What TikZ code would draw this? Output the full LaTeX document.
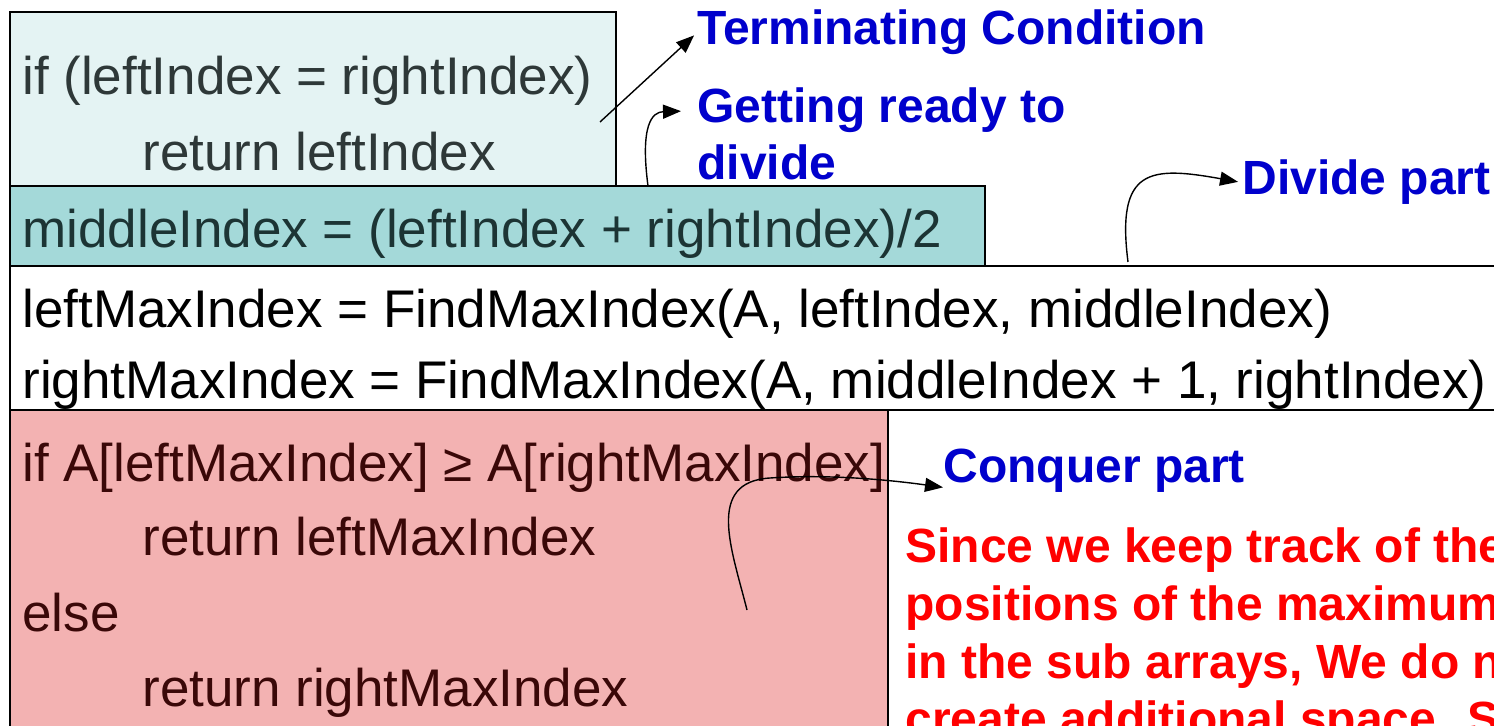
\documentclass[tikz,border=0pt]{standalone}
\usepackage{fontspec}
\setmainfont{Liberation Sans}
\usetikzlibrary{arrows.meta,positioning,calc}
\definecolor{paleteal}{HTML}{E4F3F3}
\definecolor{midteal}{HTML}{A4D9D9}
\definecolor{palerose}{HTML}{F3B2B2}
\definecolor{greyink}{HTML}{2E3838}
\definecolor{tealink}{HTML}{1C3434}
\definecolor{roseink}{HTML}{3A0808}
\definecolor{noteblue}{HTML}{0000CC}
\definecolor{notered}{HTML}{FF0000}
\newcommand{\codesize}{\fontsize{26.5}{32}\selectfont}
\newcommand{\notesize}{\fontsize{24}{28.5}\selectfont\bfseries}

\begin{document}
\begin{tikzpicture}[x=0.5pt,y=-0.5pt,>={Triangle[length=9pt,width=7pt]},
  box/.style={draw=black,line width=1pt},
  code/.style={anchor=base west,inner sep=0pt,font=\codesize},
  note/.style={anchor=base west,inner sep=0pt,font=\notesize,text=noteblue},
  warn/.style={note,text=notered},
  link/.style={->,line width=0.7pt}]
  \useasboundingbox (0,0) rectangle (1494,726);
  \clip (0,0) rectangle (1494,726);
  % code blocks
  \draw[box,fill=paleteal] (10,12) rectangle (616,186);
  \draw[box,fill=midteal] (10,186) rectangle (985,266);
  \draw[box,fill=white] (10,266) rectangle (1510,410);
  \draw[box,fill=palerose] (10,410) rectangle (888,740);
  % code text
  \node[code,text=greyink] (base1) at (22,95) {if (leftIndex = rightIndex)};
  \node[code,text=greyink] (base2) at (142,171) {return leftIndex};
  \node[code,text=tealink] (mid) at (22,248) {middleIndex = (leftIndex + rightIndex)/2};
  \node[code] (rec1) at (22,328) {leftMaxIndex = FindMaxIndex(A, leftIndex, middleIndex)};
  \node[code] (rec2) at (22,399) {rightMaxIndex = FindMaxIndex(A, middleIndex + 1, rightIndex)};
  \node[code,text=roseink] (cmp1) at (22,482) {if A[leftMaxIndex] ≥ A[rightMaxIndex]};
  \node[code,text=roseink] (cmp2) at (142,556) {return leftMaxIndex};
  \node[code,text=roseink] (cmp3) at (22,632) {else};
  \node[code,text=roseink] (cmp4) at (142,706) {return rightMaxIndex};
  % notes
  \node[note] (term) at (697,45) {Terminating Condition};
  \node[note] (ready1) at (697,123) {Getting ready to};
  \node[note] (ready2) at (697,180) {divide};
  \node[note] (divide) at (1242,195) {Divide part};
  \node[note] (conquer) at (943,483) {Conquer part};
  \foreach \ln [count=\k] in {Since we keep track of the,positions of the maximum,{in the sub arrays, We do not},create additional space. S}
    \node[warn] (why\k) at (905,{563+57.5*(\k-1)}) {\ln};
  % pointers
  \coordinate (fromterm) at (600,122);
  \coordinate (fromready) at (648,186);
  \coordinate (fromdivide) at (1128,262);
  \coordinate (fromconquer) at (747,610);
  \draw[link,shorten >=2pt] (fromterm) -- (term.west);
  \draw[link,shorten >=8pt] (fromready) .. controls (640,125) and (652,112) .. (ready1.west);
  \draw[link,shorten >=2pt] (fromdivide) .. controls (1116,168) and (1150,166) .. (divide.west);
  \draw[link] (fromconquer) .. controls (732,550) and (705,482) .. (770,478)
    .. controls (830,474) and (890,480) .. ($(conquer.south west)+(0,-6)$);
\end{tikzpicture}
\end{document}
